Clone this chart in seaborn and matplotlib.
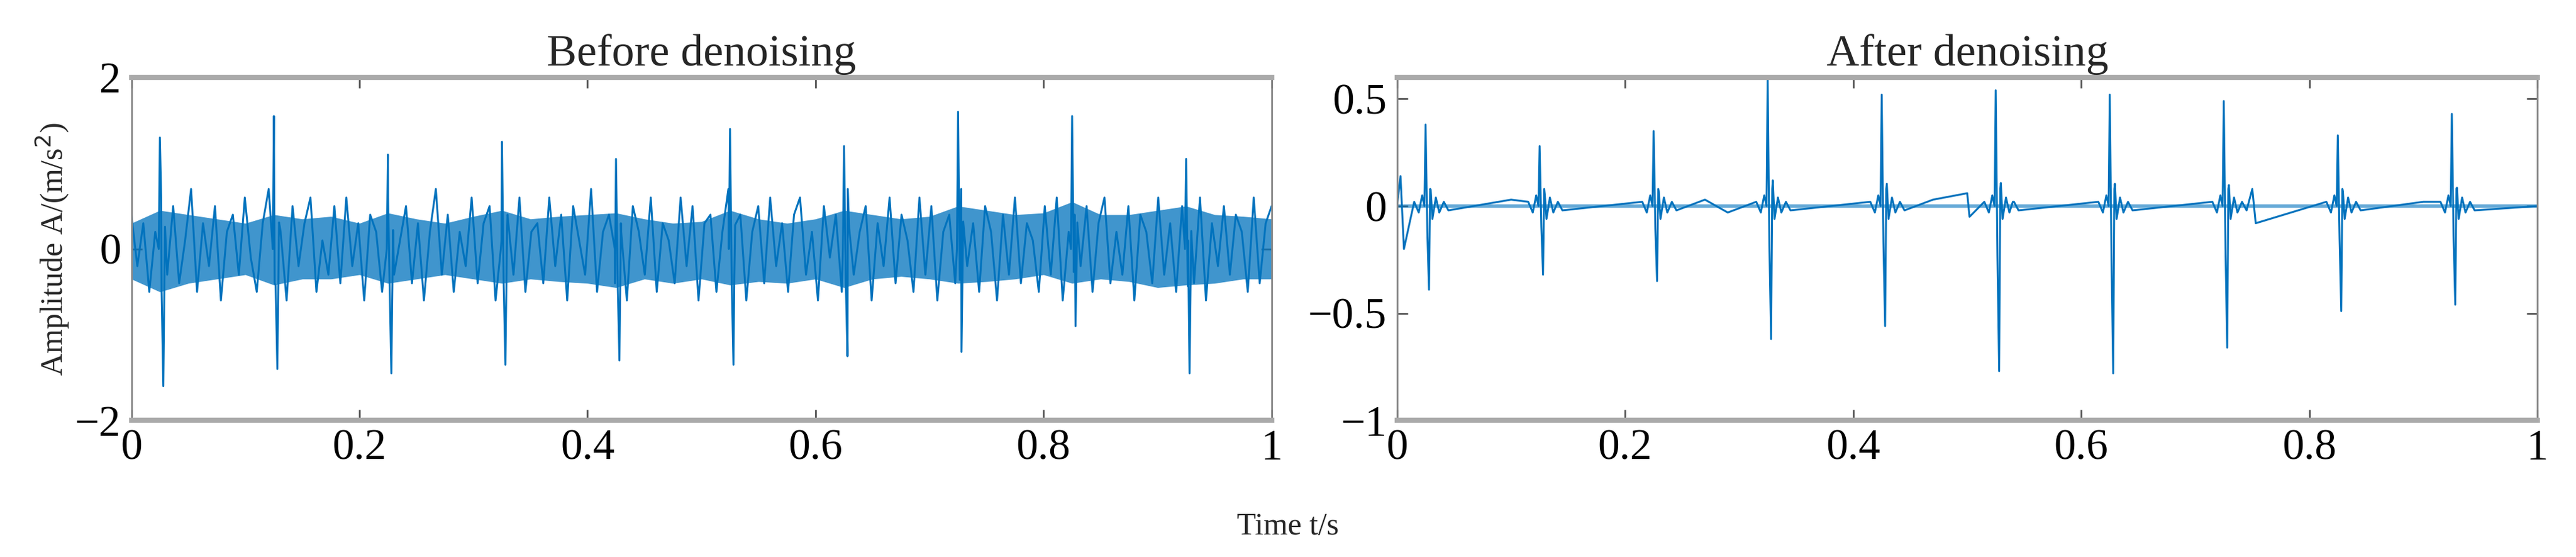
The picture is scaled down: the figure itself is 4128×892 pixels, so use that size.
import numpy as np
import pandas as pd
import matplotlib
matplotlib.use("Agg")
import matplotlib.pyplot as plt
import seaborn as sns

sns.set_theme(style="white")
plt.rcParams['font.family'] = ['Liberation Serif', 'DejaVu Serif']
BLUE = "#0072BD"

# impulse times (s) and peak values
impulse_t = [0.025, 0.125, 0.225, 0.325, 0.425, 0.525, 0.625, 0.725, 0.825, 0.925]
before_pos = [1.30, 1.55, 1.10, 1.25, 1.05, 1.40, 1.20, 1.60, 1.55, 1.05]
before_neg = [-1.60, -1.40, -1.45, -1.35, -1.30, -1.35, -1.25, -1.20, -0.90, -1.45]
after_pos = [0.38, 0.28, 0.35, 0.60, 0.52, 0.54, 0.52, 0.49, 0.33, 0.43]
after_neg = [-0.39, -0.32, -0.35, -0.62, -0.56, -0.77, -0.78, -0.66, -0.49, -0.46]

# noise band envelope of the raw signal (every 0.025 s)
env_t = [0.0, 0.025, 0.05, 0.075, 0.1, 0.125, 0.15, 0.175, 0.2, 0.225, 0.25, 0.275, 0.3, 0.325,
         0.35, 0.375, 0.4, 0.425, 0.45, 0.475, 0.5, 0.525, 0.55, 0.575, 0.6, 0.625, 0.65, 0.675,
         0.7, 0.725, 0.75, 0.775, 0.8, 0.825, 0.85, 0.875, 0.9, 0.925, 0.95, 0.975, 1.0]
env_hi = [0.30, 0.45, 0.40, 0.35, 0.30, 0.40, 0.35, 0.38, 0.30, 0.42, 0.35, 0.30, 0.38, 0.45,
          0.35, 0.38, 0.40, 0.42, 0.35, 0.30, 0.32, 0.45, 0.35, 0.30, 0.35, 0.45, 0.40, 0.35,
          0.38, 0.50, 0.45, 0.40, 0.42, 0.55, 0.40, 0.40, 0.45, 0.50, 0.40, 0.38, 0.35]
env_lo = [-0.35, -0.50, -0.40, -0.35, -0.30, -0.42, -0.35, -0.35, -0.30, -0.40, -0.35, -0.30, -0.35, -0.40,
          -0.35, -0.38, -0.40, -0.45, -0.35, -0.40, -0.35, -0.42, -0.38, -0.40, -0.35, -0.45, -0.35, -0.32,
          -0.35, -0.40, -0.38, -0.35, -0.30, -0.40, -0.35, -0.38, -0.45, -0.42, -0.40, -0.35, -0.35]

# hand-read wiggle of the raw signal
raw_wiggle = [0.4, -0.2, 0.3, -0.5, 0.2, 0.6, -0.3, 0.5, -0.4, 0.1, 0.7, -0.5, 0.3, -0.2, 0.5, -0.6,
              0.2, 0.4, -0.3, 0.6, -0.1, -0.5, 0.3, 0.7, -0.4, 0.2, -0.6, 0.5, -0.2, 0.3, 0.6, -0.5,
              0.1, -0.3, 0.5, -0.4, 0.6, -0.2, 0.3, -0.6, 0.4, 0.2, -0.5, 0.6, -0.3, 0.1, 0.5, -0.4,
              0.3, -0.6, 0.2, 0.7, -0.3, 0.4, -0.5, 0.2, -0.2, 0.6, -0.4, 0.3, 0.5, -0.6, 0.1, 0.4,
              -0.3, 0.6, -0.5, 0.2, 0.3, -0.4, 0.6, -0.2, 0.4, -0.6, 0.5, 0.1, -0.3, 0.7, -0.5, 0.2,
              0.4, -0.4, 0.3, -0.6, 0.5, 0.2, -0.3, 0.6, -0.5, 0.3, 0.1, -0.4, 0.6, -0.2, 0.5, -0.6,
              0.3, 0.4, -0.5, 0.2, 0.7, -0.3, 0.4, -0.6, 0.2, 0.5, -0.4, 0.6, -0.2, 0.3, -0.5, 0.4,
              0.6, -0.3, 0.2, -0.6, 0.5, -0.1, 0.4, -0.5, 0.7, -0.3, 0.2, 0.5, -0.6, 0.3, -0.2, 0.6,
              -0.4, 0.4, 0.1, -0.5, 0.6, -0.3, 0.5, -0.6, 0.2, 0.4, -0.4, 0.7, -0.2, 0.3, -0.5, 0.5,
              0.2, -0.6, 0.4, -0.3, 0.6, -0.4, 0.3, 0.1, -0.5, 0.5, -0.3, 0.6, -0.6, 0.2, 0.4, -0.2,
              0.5, -0.5, 0.3, 0.6, -0.4, 0.2, -0.3, 0.5, -0.6, 0.4, 0.2, -0.4, 0.6, -0.3, 0.3, -0.5,
              0.5, 0.1, -0.4, 0.6, -0.6, 0.3, -0.2, 0.5, -0.3, 0.4, 0.2, -0.5, 0.6, -0.4, 0.3, 0.5]

# small ringing around each impulse after denoising (offset s, value)
ring_dt = [-0.010, -0.006, -0.003, 0.004, 0.006, 0.009, 0.012, 0.016, 0.020]
ring_v = [0.02, -0.03, 0.05, 0.08, -0.06, 0.04, -0.03, 0.02, -0.02]
after_extra_t = [0.0, 0.003, 0.006, 0.10, 0.27, 0.29, 0.47, 0.50, 0.502, 0.54, 0.75, 0.753, 0.90]
after_extra_v = [0.0, 0.14, -0.20, 0.03, 0.03, -0.03, 0.03, 0.06, -0.05, 0.02, 0.08, -0.08, 0.02]


def spikes(pos, neg):
    t, v = [], []
    for ti, p, n in zip(impulse_t, pos, neg):
        t += [ti - 0.001, ti, ti + 0.0015, ti + 0.003, ti + 0.0045]
        v += [0.0, p, 0.3 * n, n, 0.2 * p]
    return t, v


fig, axes = plt.subplots(1, 2, figsize=(41.28, 8.92), dpi=100)
fig.subplots_adjust(left=0.051, right=0.985, top=0.861, bottom=0.245, wspace=0.11)

# before
ax = axes[0]
ax.fill_between(env_t, env_lo, env_hi, color=BLUE, alpha=0.75, lw=0)
wig_t = np.linspace(0, 1, len(raw_wiggle))
st, sv = spikes(before_pos, before_neg)
df_b = pd.DataFrame({"t": np.concatenate([wig_t, st]), "v": np.concatenate([raw_wiggle, sv])}).sort_values("t")
sns.lineplot(data=df_b, x="t", y="v", ax=ax, color=BLUE, lw=2.2, sort=True, estimator=None)
ax.set_ylim(-2, 2)
ax.set_yticks([-2, 0, 2])
ax.set_yticklabels(["\u22122", "0", "2"])
ax.set_title("Before denoising", fontsize=52, pad=14)
ax.set_ylabel("Amplitude A/(m/s$^2$)", fontsize=36, labelpad=4)

# after
ax = axes[1]
t_a, v_a = spikes(after_pos, after_neg)
for ti in impulse_t:
    t_a += [ti + d for d in ring_dt]
    v_a += ring_v
t_a += after_extra_t + [1.0]
v_a += after_extra_v + [0.0]
df_a = pd.DataFrame({"t": t_a, "v": v_a}).sort_values("t")
sns.lineplot(data=df_a, x="t", y="v", ax=ax, color=BLUE, lw=2.2, sort=True, estimator=None)
ax.axhline(0, color=BLUE, lw=4, alpha=0.6)
ax.set_ylim(-1, 0.6)
ax.set_yticks([-1, -0.5, 0, 0.5])
ax.set_yticklabels(["\u22121", "\u22120.5", "0", "0.5"])
ax.set_title("After denoising", fontsize=52, pad=14)
ax.set_ylabel("")

for ax in axes:
    ax.set_xlim(0, 1)
    ax.set_xticks([0, 0.2, 0.4, 0.6, 0.8, 1])
    ax.set_xticklabels(["0", "0.2", "0.4", "0.6", "0.8", "1"])
    ax.set_xlabel("")
    ax.tick_params(axis="both", labelsize=50, direction="in", length=12, width=2,
                   top=True, right=True, bottom=True, left=True, colors="#555555", labelcolor="black")
    ax.tick_params(axis="y", pad=12)
    ax.tick_params(axis="x", pad=10)
    for s in ax.spines.values():
        s.set_color("#888888")
        s.set_linewidth(2)
    ax.spines["top"].set_linewidth(6)
    ax.spines["bottom"].set_linewidth(6)
    ax.spines["top"].set_color("#aaaaaa")
    ax.spines["bottom"].set_color("#aaaaaa")

fig.text(0.5, 0.04, "Time t/s", ha="center", fontsize=36)
fig.savefig("out.png", dpi=100, facecolor="white")
